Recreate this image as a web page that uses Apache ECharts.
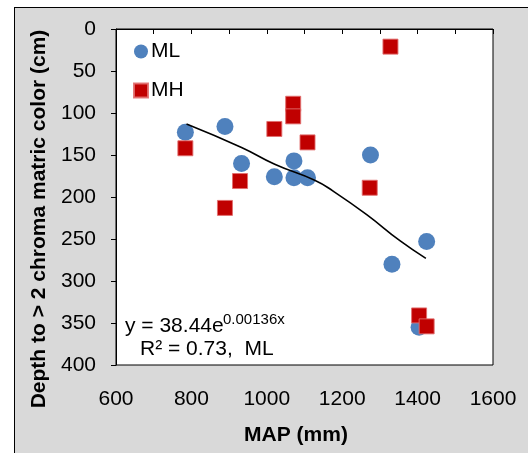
<!DOCTYPE html>
<html><head><meta charset="utf-8">
<script src="https://cdn.jsdelivr.net/npm/echarts@6/dist/echarts.min.js"></script>
<style>
html,body{margin:0;padding:0;background:#fff;}
#frame{position:absolute;left:14px;top:7px;width:600px;height:445px;background:#d9d9d9;border-left:1px solid #000;border-top:1px solid #000;border-bottom:1px solid #b0b0b0;}
#c{position:absolute;left:0;top:0;width:528px;height:453px;}
</style>
</head><body><div id="frame"></div><div id="c"></div>
<script>
// ML series (circles)
const mlMAP   = [784, 889, 933, 1020, 1072, 1072, 1108, 1275, 1332, 1424, 1404];
const mlDepth = [123, 116, 160, 176, 157, 177, 177, 150, 280, 253, 355];
// MH series (squares)
const mhMAP   = [784, 889, 929, 1020, 1070, 1070, 1108, 1273, 1328, 1404, 1424];
const mhDepth = [142, 213, 181, 119, 89, 104, 135, 189, 21, 341, 354];
// exponential trend line for ML
const trendMAP   = [787, 933, 1021, 1127, 1176, 1265, 1353, 1422];
const trendDepth = [113, 141, 161, 180, 193, 221, 252, 273];
// labelled x ticks
const xTickLabels = [600, 800, 1000, 1200, 1400, 1600];

const FONT = "'Liberation Sans', Arial, sans-serif";
const zip = (a, b) => a.map((v, i) => [v, b[i]]);

const chart = echarts.init(document.getElementById('c'), null, {renderer: 'canvas'});
chart.setOption({
  backgroundColor: 'transparent',
  animation: false,
  grid: {left: 116, top: 29, right: 35, bottom: 88, show: true, backgroundColor: '#fff', borderColor: '#000', borderWidth: 1},
  xAxis: {
    type: 'value', min: 600, max: 1600, interval: 100,
    axisLine: {show: true, lineStyle: {color: '#000', width: 1}},
    axisTick: {show: true, length: 5, lineStyle: {color: '#000'}},
    splitLine: {show: false},
    axisLabel: {color: '#000', fontSize: 21, fontFamily: FONT, margin: 24,
      formatter: v => xTickLabels.indexOf(v) >= 0 ? String(v) : ''}
  },
  yAxis: {
    type: 'value', min: 0, max: 400, interval: 50, inverse: true,
    axisLine: {show: true, lineStyle: {color: '#000', width: 1}},
    axisTick: {show: true, length: 5, lineStyle: {color: '#000'}},
    splitLine: {show: false},
    axisLabel: {color: '#000', fontSize: 21, fontFamily: FONT, margin: 20}
  },
  legend: {
    orient: 'vertical', left: 133, top: 41, padding: 0, itemWidth: 14, itemHeight: 14, itemGap: 18,
    data: [{name: 'ML', icon: 'circle'}, {name: 'MH', icon: 'rect'}],
    textStyle: {fontSize: 21, fontFamily: FONT, color: '#000', padding: [0, 0, 0, -2]}
  },
  series: [
    {name: 'ML', type: 'scatter', symbol: 'circle', symbolSize: 17, data: zip(mlMAP, mlDepth),
     itemStyle: {color: '#4f81bd', opacity: 1}, z: 2},
    {name: 'MH', type: 'scatter', symbol: 'rect', symbolSize: 15, data: zip(mhMAP, mhDepth),
     itemStyle: {color: '#c00000', borderColor: 'rgba(225,110,110,0.9)', borderWidth: 1, opacity: 1}, z: 3},
    {name: 'trend', type: 'line', data: zip(trendMAP, trendDepth), smooth: true, showSymbol: false,
     lineStyle: {color: '#000', width: 1.6}, z: 4, silent: true}
  ],
  graphic: [
    {type: 'text', x: 39, y: 219, rotation: Math.PI / 2, z: 10,
     style: {text: 'Depth to > 2 chroma matric color (cm)', font: "bold 21px " + FONT, fill: '#000', align: 'center', verticalAlign: 'middle'}},
    {type: 'text', x: 296, y: 435, z: 10,
     style: {text: 'MAP (mm)', font: "bold 21px " + FONT, fill: '#000', align: 'center', verticalAlign: 'middle'}},
    {type: 'text', x: 125, y: 326, z: 10,
     style: {text: 'y = 38.44e', font: "21px " + FONT, fill: '#000', align: 'left', verticalAlign: 'middle'}},
    {type: 'text', x: 223, y: 320, z: 10,
     style: {text: '0.00136x', font: "15px " + FONT, fill: '#000', align: 'left', verticalAlign: 'middle'}},
    {type: 'text', x: 140, y: 349, z: 10,
     style: {text: 'R\u00B2 = 0.73,  ML', font: "21px " + FONT, fill: '#000', align: 'left', verticalAlign: 'middle'}}
  ]
});
</script>
</body></html>
